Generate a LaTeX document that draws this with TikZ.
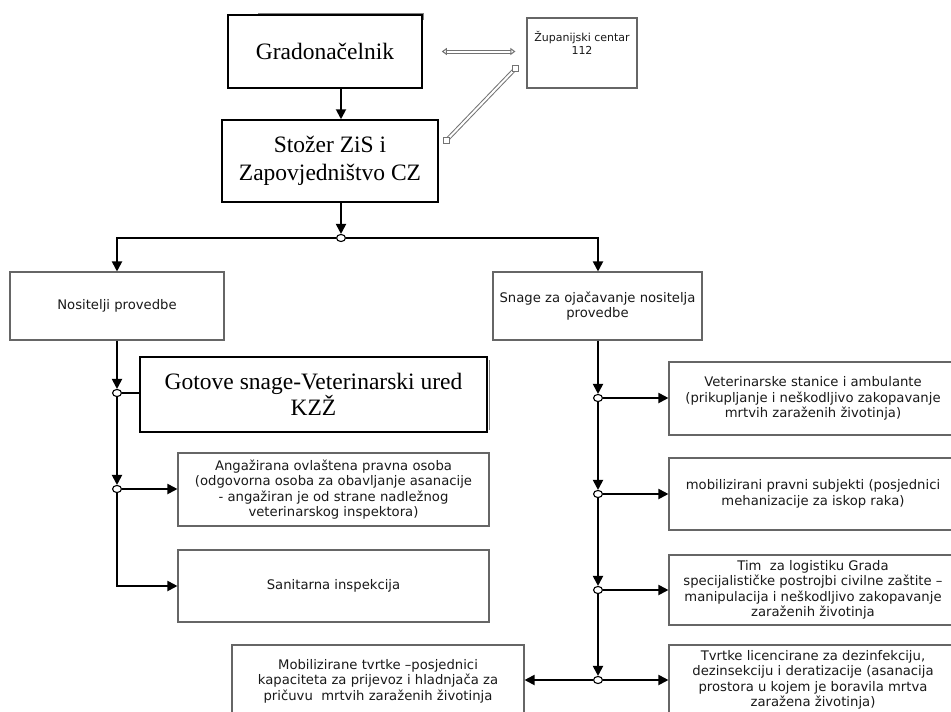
\documentclass[tikz,border=0pt]{standalone}
\usepackage{fontspec}
\setmainfont{Liberation Serif}
\newfontfamily\dejavu{DejaVu Sans}
\usetikzlibrary{arrows.meta,calc,shapes.geometric}
\begin{document}
\begin{tikzpicture}[x=1pt,y=-1pt,
 serifbox/.style={draw=black, line width=1.5pt, fill=white, align=center, inner sep=2pt, font=\fontsize{23.5}{28}\selectfont},
 sbox/.style={draw=black!60, line width=1.1pt, fill=white, align=center, inner sep=2pt, text=black!90, font=\dejavu\fontsize{13.2}{15.5}\selectfont},
 junc/.style={ellipse, draw=black, line width=1.1pt, fill=white, minimum width=9pt, minimum height=7pt, inner sep=0pt},
 conn/.style={draw=black, line width=1.9pt, -{Triangle[length=10pt,width=10pt]}},
 plainc/.style={draw=black, line width=1.9pt},
 dbl/.style={draw=black!55, line width=1pt, double=white, double distance=2pt}
]
\useasboundingbox (0,0) rectangle (951,712);
\clip (0,0) rectangle (951,712);
\fill[white] (0,0) rectangle (951,712);

% back edges
\draw[black!50, line width=0.8pt] (258,13) -- (423,13) -- (423,20);
\draw[black!50, line width=0.8pt] (489,360) -- (489,430);

% boxes
\node[serifbox, minimum width=194pt, minimum height=73pt] (grad) at (325,51.5) {Gradonačelnik};
\node[sbox, minimum width=110pt, minimum height=70pt,
  label={[anchor=north, yshift=-14pt, align=center, inner sep=0pt, text=black!90, font=\dejavu\fontsize{11}{13}\selectfont]north:{Županijski centar\\112}}] (zup) at (582,53) {};
\node[serifbox, minimum width=216pt, minimum height=82pt] (stozer) at (330,161) {Stožer ZiS i\\Zapovjedništvo CZ};

\node[junc] (j0) at (341,238) {};

\node[sbox, minimum width=214pt, minimum height=68pt] (nos) at (117,306) {Nositelji provedbe};
\node[sbox, minimum width=209pt, minimum height=68pt] (snage) at (597.5,306) {Snage za ojačavanje nositelja\\provedbe};

\node[serifbox, minimum width=347pt, minimum height=75pt, font=\fontsize{23.5}{26}\selectfont] (got) at (313.5,394.5) {Gotove snage-Veterinarski ured\\KZŽ};
\node[sbox, minimum width=311pt, minimum height=73pt] (ang) at (333.5,489.5) {Angažirana ovlaštena pravna osoba\\(odgovorna osoba za obavljanje asanacije\\- angažiran je od strane nadležnog\\veterinarskog inspektora)};
\node[sbox, minimum width=311pt, minimum height=72pt] (san) at (333.5,586) {Sanitarna inspekcija};

\node[sbox, minimum width=288pt, minimum height=73pt] (vet) at (813,398.5) {Veterinarske stanice i ambulante\\(prikupljanje i neškodljivo zakopavanje\\mrtvih zaraženih životinja)};
\node[sbox, minimum width=288pt, minimum height=72pt] (mob) at (813,494) {mobilizirani pravni subjekti (posjednici\\mehanizacije za iskop raka)};
\node[sbox, minimum width=288pt, minimum height=70pt] (tim) at (813,590) {Tim\ \ za logistiku Grada\\specijalističke postrojbi civilne zaštite –\\manipulacija i neškodljivo zakopavanje\\zaraženih životinja};
\node[sbox, minimum width=288pt, minimum height=70pt] (tvr) at (813,680) {Tvrtke licencirane za dezinfekciju,\\dezinsekciju i deratizacije (asanacija\\prostora u kojem je boravila mrtva\\zaražena životinja)};
\node[sbox, minimum width=292pt, minimum height=72pt] (mobz) at (378,681) {Mobilizirane tvrtke –posjednici\\kapaciteta za prijevoz i hladnjača za\\pričuvu\ \ mrtvih zaraženih životinja};

% junctions
\node[junc] (L1) at (117,393) {};
\node[junc] (L2) at (117,489) {};
\node[junc] (R1) at (598,398) {};
\node[junc] (R2) at (598,494) {};
\node[junc] (R3) at (598,590) {};
\node[junc] (R4) at (598,680) {};

% connectors
\draw[conn] (grad.south -| j0) -- (stozer.north -| j0);
\draw[conn] (stozer.south -| j0) -- (j0);
\draw[conn] (j0) -| (nos.north);
\draw[conn] (j0) -| (R1 |- snage.north);

\draw[conn] (nos.south) -- (L1);
\draw[plainc] (L1) -- (L1 -| got.west);
\draw[conn] (L1) -- (L2);
\draw[conn] (L2) -- (L2 -| ang.west);
\draw[conn] (L2) |- (san.west);

\draw[conn] (R1 |- snage.south) -- (R1);
\draw[conn] (R1) -- (R1 -| vet.west);
\draw[conn] (R1) -- (R2);
\draw[conn] (R2) -- (R2 -| mob.west);
\draw[conn] (R2) -- (R3);
\draw[conn] (R3) -- (R3 -| tim.west);
\draw[conn] (R3) -- (R4);
\draw[conn] (R4) -- (R4 -| tvr.west);
\draw[conn] (R4) -- (R4 -| mobz.east);

% grey double links
\draw[dbl, {Triangle[open,length=5pt,width=7pt]}-{Triangle[open,length=5pt,width=7pt]}, shorten <=19pt, shorten >=11pt] (grad.east) -- (grad.east -| zup.west);
\coordinate (d1) at ($(stozer.east)+(8,-21)$);
\coordinate (d2) at ($(zup.south west)+(-11,-20)$);
\draw[dbl] (d1) -- (d2);
\draw[black!55, line width=0.9pt, fill=white] (d1) ++(-3,-3) rectangle ++(6,6);
\draw[black!55, line width=0.9pt, fill=white] (d2) ++(-3,-3) rectangle ++(6,6);
\end{tikzpicture}
\end{document}
